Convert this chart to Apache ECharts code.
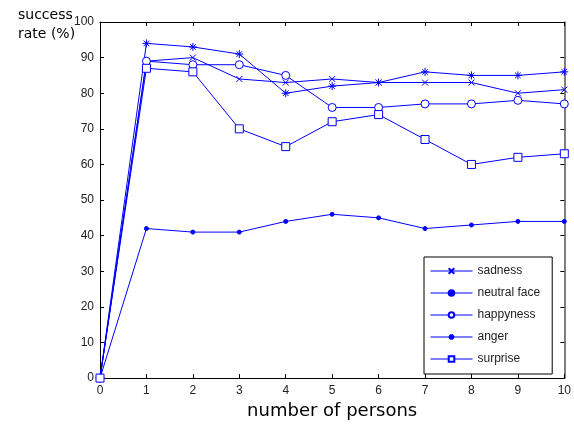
<!DOCTYPE html>
<html><head><meta charset="utf-8">
<script src="https://cdn.jsdelivr.net/npm/echarts@6/dist/echarts.min.js"></script>
<style>html,body{margin:0;padding:0;background:#fff}#c{width:574px;height:425px}</style>
</head><body><div id="c"></div>
<script>
const persons = [0,1,2,3,4,5,6,7,8,9,10];
const sadness = [0,89,90,84,83,84,83,83,83,80,81];
const neutralFace = [0,42,41,41,44,46,45,42,43,44,44];
const happyness = [0,89,88,88,85,76,76,77,77,78,77];
const anger = [0,94,93,91,80,82,83,86,85,85,86];
const surprise = [0,87,86,70,65,72,74,67,60,62,63];
const seriesNames = ['sadness','neutral face','happyness','anger','surprise'];
const yTicks = [0,10,20,30,40,50,60,70,80,90,100];

const BLUE = '#0000ff';
const xSym = 'path://M0 0L10 10M10 0L0 10';
const starSym = 'path://M5 0L5 10M0 5L10 5M1.5 1.5L8.5 8.5M8.5 1.5L1.5 8.5';

function mk(name, vals, symbol, size, filled) {
  return {
    name: name, type: 'line',
    data: persons.map((p, i) => [p, vals[i]]),
    symbol: symbol, symbolSize: size, showAllSymbol: true,
    lineStyle: {color: BLUE, width: 1},
    itemStyle: {color: filled ? BLUE : '#fff', borderColor: BLUE, borderWidth: 1},
    emphasis: {disabled: true},
    animation: false
  };
}

const axisCommon = {
  type: 'value',
  axisLine: {show: true, onZero: false, lineStyle: {color: '#000', width: 1}},
  axisTick: {show: true, inside: true, length: 4, lineStyle: {color: '#000'}},
  splitLine: {show: false}
};

const chart = echarts.init(document.getElementById('c'), null, {renderer: 'canvas'});
chart.setOption({
  backgroundColor: '#fff',
  animation: false,
  title: {
    text: 'success\nrate (%)', left: 13, top: 1,
    textStyle: {fontFamily: 'DejaVu Sans', fontSize: 14, fontWeight: 'normal', color: '#000', lineHeight: 19}
  },
  grid: {left: 100, right: 8, top: 22, bottom: 40},
  xAxis: [
    Object.assign({}, axisCommon, {
      min: 0, max: 10, interval: 1, position: 'bottom',
      name: 'number of persons', nameLocation: 'middle', nameGap: 19,
      nameTextStyle: {fontFamily: 'DejaVu Sans', fontSize: 18, color: '#000'},
      axisLabel: {fontFamily: 'Liberation Sans', fontSize: 12, color: '#222', margin: 7}
    }),
    Object.assign({}, axisCommon, {
      min: 0, max: 10, interval: 1, position: 'top', axisLabel: {show: false}
    })
  ],
  yAxis: [
    Object.assign({}, axisCommon, {
      min: 0, max: 100, interval: 10, position: 'left',
      axisLabel: {fontFamily: 'Liberation Sans', fontSize: 12, color: '#222', margin: 6,
        formatter: v => yTicks.includes(v) ? String(v) : ''}
    }),
    Object.assign({}, axisCommon, {
      min: 0, max: 100, interval: 10, position: 'right', axisLabel: {show: false},
      axisLine: {show: true, onZero: false, lineStyle: {color: '#555', width: 1.5}}
    })
  ],
  legend: {
    orient: 'vertical', left: 424, top: 257,
    backgroundColor: '#fff', borderColor: '#000', borderWidth: 1,
    padding: [7, 12, 8, 6], itemGap: 8, itemWidth: 42, itemHeight: 7,
    lineStyle: {width: 1},
    textStyle: {fontFamily: 'Liberation Sans', fontSize: 12, color: '#222', lineHeight: 14},
    data: seriesNames,
    selectedMode: false
  },
  series: [
    mk(seriesNames[0], sadness, xSym, 6, true),
    mk(seriesNames[1], neutralFace, 'circle', 4, true),
    mk(seriesNames[2], happyness, 'circle', 8, false),
    mk(seriesNames[3], anger, starSym, 8, true),
    mk(seriesNames[4], surprise, 'rect', 8, false)
  ]
});
</script></body></html>
